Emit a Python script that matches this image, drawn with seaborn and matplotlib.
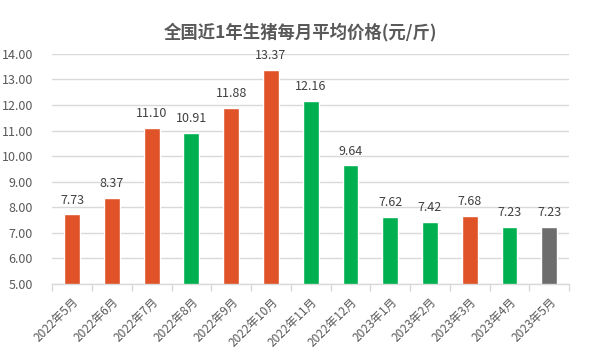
import matplotlib
matplotlib.use("Agg")
import matplotlib.pyplot as plt
import seaborn as sns
import pandas as pd

months = ["2022年5月", "2022年6月", "2022年7月", "2022年8月", "2022年9月", "2022年10月",
          "2022年11月", "2022年12月", "2023年1月", "2023年2月", "2023年3月", "2023年4月", "2023年5月"]
prices = [7.73, 8.37, 11.10, 10.91, 11.88, 13.37, 12.16, 9.64, 7.62, 7.42, 7.68, 7.23, 7.23]
# up / down / current month
trend = ["up", "up", "up", "down", "up", "up", "down", "down", "down", "down", "up", "down", "now"]

colors = {"up": "#E05328", "down": "#00B050", "now": "#6D6D6D"}

sns.set_theme(style="white")
plt.rcParams["font.family"] = ["Noto Sans CJK SC", "DejaVu Sans"]

df = pd.DataFrame({"month": months, "price": prices, "trend": trend})

fig = plt.figure(figsize=(6.01, 3.52), dpi=100)
ax = fig.add_axes([0.087, 0.193, 0.86, 0.654])

sns.barplot(data=df, x="month", y="price", hue="month",
            palette=[colors[t] for t in trend], legend=False, width=0.4,
            saturation=1, ax=ax)

ax.set_ylim(5, 14)
ax.set_yticks([5 + i for i in range(10)])
ax.set_yticklabels([f"{5 + i:.2f}" for i in range(10)])
ax.yaxis.grid(True, color="#D9D9D9", linewidth=1)
ax.set_axisbelow(True)
for s in ["left", "right", "top"]:
    ax.spines[s].set_visible(False)
ax.spines["bottom"].set_color("#D9D9D9")
ax.spines["bottom"].set_linewidth(1)

ax.set_xlabel("")
ax.set_ylabel("")
ax.tick_params(axis="y", length=0, pad=14, labelsize=9, labelcolor="#595959")
ax.set_xticks(range(len(months)))
ax.set_xticks([i - 0.5 for i in range(len(months) + 1)], minor=True)
ax.tick_params(axis="x", which="major", length=0, pad=8, labelsize=8.5, labelcolor="#595959")
ax.tick_params(axis="x", which="minor", length=5, color="#D9D9D9", width=1, bottom=True)
plt.setp(ax.get_xticklabels(), rotation=45, ha="right", rotation_mode="anchor")

for i, v in enumerate(prices):
    ax.text(i, v + 0.3, f"{v:.2f}", ha="center", va="bottom", fontsize=9, color="#404040")

fig.text(0.5, 0.91, "全国近1年生猪每月平均价格(元/斤)", ha="center", va="center",
         fontsize=12.5, fontweight="bold", color="#595959")

fig.savefig("out.png", dpi=100)
